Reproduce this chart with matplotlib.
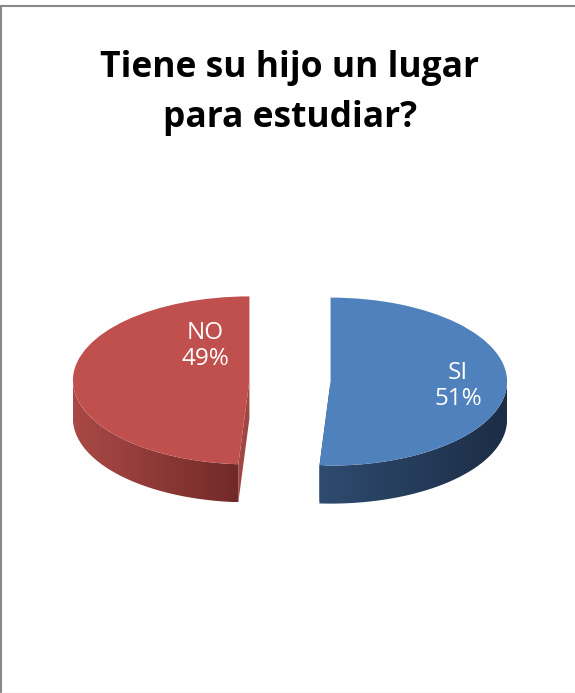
import numpy as np
import matplotlib.pyplot as plt
from matplotlib.patches import Polygon
from matplotlib.colors import LinearSegmentedColormap

# data
labels = ['SI', 'NO']
values = [51, 49]
title = 'Tiene su hijo un lugar\npara estudiar?'

top_colors = ['#4F81BD', '#C0504D']
side_light = ['#2E4B6F', '#AA4946']
side_dark = ['#1C2D46', '#712A28']
cut_colors = ['#22385A', '#A04643']

W, H = 575, 693
fig = plt.figure(figsize=(W / 100, H / 100), dpi=100)
ax = fig.add_axes([0, 0, 1, 1])

# pixel geometry of the squashed pie
cx_px, cy_px = 290, 381
rx_px, ry_px = 176.5, 84
thick = 38 / ry_px
explode = 0.23

wedges, _ = ax.pie(values, startangle=90, counterclock=False,
                   explode=[explode] * len(values), colors=top_colors,
                   wedgeprops=dict(linewidth=0, zorder=5))
ax.set_aspect('auto')
xlim = (-cx_px / rx_px, (W - cx_px) / rx_px)
ylim = (-(H - cy_px) / ry_px, cy_px / ry_px)

for i, w in enumerate(wedges):
    cx, cy = w.center
    t1, t2 = w.theta1, w.theta2
    # radial cut faces
    for t in (t1, t2):
        px, py = cx + np.cos(np.radians(t)), cy + np.sin(np.radians(t))
        ax.add_patch(Polygon([(cx, cy), (px, py), (px, py - thick), (cx, cy - thick)],
                             closed=True, facecolor=cut_colors[i], edgecolor='none', zorder=2))
    # front side wall with a left-to-right shade
    ang = np.linspace(t1, t2, 400)
    ang = ang[np.sin(np.radians(ang)) <= 0]
    th = np.radians(ang)
    xs, ys = cx + np.cos(th), cy + np.sin(th)
    pts = list(zip(xs, ys)) + list(zip(xs[::-1], ys[::-1] - thick))
    side = Polygon(pts, closed=True, facecolor='none', edgecolor='none', zorder=3)
    ax.add_patch(side)
    cmap = LinearSegmentedColormap.from_list('s%d' % i, [side_light[i], side_dark[i]])
    grad = np.linspace(0, 1, 256).reshape(1, -1)
    im = ax.imshow(grad, cmap=cmap, aspect='auto', zorder=3,
                   extent=(xs.min(), xs.max(), ys.min() - thick, ys.max() + 0.01))
    im.set_clip_path(side)

ax.set_xlim(*xlim)
ax.set_ylim(*ylim)
ax.axis('off')

# data labels
label_pos = [(458, 386), (205, 346)]
for (lx, ly), lab, v in zip(label_pos, labels, values):
    ax.text(lx / W, 1 - ly / H, f'{lab}\n{v}%', transform=ax.transAxes,
            ha='center', va='center', color='white', fontsize=17.5,
            family='Open Sans', linespacing=1.15, zorder=10)

fig.text(290 / W, 1 - 93 / H, title, ha='center', va='center', fontsize=25.5,
         fontweight='bold', family='Open Sans', linespacing=1.5)

# chart border
fig.add_artist(plt.Line2D([0, 1], [1 - 5.5 / H, 1 - 5.5 / H], color='#888888', lw=1.5))
fig.add_artist(plt.Line2D([1 / W, 1 / W], [0, 1 - 5.5 / H], color='#888888', lw=1.5))
fig.add_artist(plt.Line2D([0, 1], [0.5 / H, 0.5 / H], color='#e8e8e8', lw=1))

plt.savefig('out.png', dpi=100)
